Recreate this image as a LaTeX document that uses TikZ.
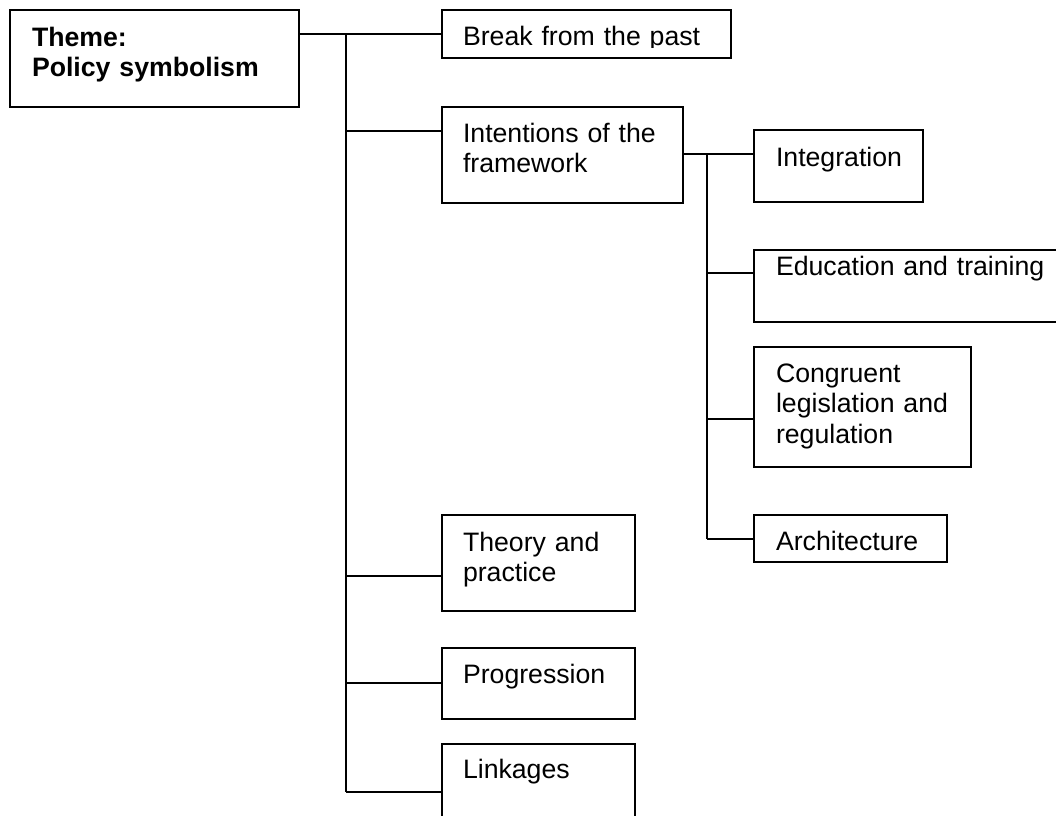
\documentclass[tikz,border=0pt]{standalone}
\usepackage{fontspec}
\setmainfont{Liberation Sans}
\begin{document}
\begin{tikzpicture}[x=1pt,y=-1pt,
  box/.style={draw, line width=1.6pt, rectangle, anchor=north west, inner sep=0pt, outer sep=0pt},
  txt/.style={anchor=base west, inner sep=0pt, outer sep=0pt, align=left, text width=#1,
    font=\fontsize{26.67}{30.7}\selectfont},
  txt/.default=280pt,
  link/.style={line width=1.6pt}]
\useasboundingbox (0,0) rectangle (1056,815);
% boxes
\node[box, minimum width=289pt, minimum height=97pt] (theme) at (10,10) {};
\node[box, minimum width=289pt, minimum height=48pt] (break) at (442,10) {};
\node[box, minimum width=241pt, minimum height=96pt] (inten) at (442,107) {};
\node[box, minimum width=169pt, minimum height=72pt] (integ) at (754,130) {};
\node[box, minimum width=310pt, minimum height=72pt] (educ) at (754,250) {};
\node[box, minimum width=217pt, minimum height=120pt] (congr) at (754,347) {};
\node[box, minimum width=193pt, minimum height=47pt] (arch) at (754,515) {};
\node[box, minimum width=193pt, minimum height=96pt] (theory) at (442,515) {};
\node[box, minimum width=193pt, minimum height=71pt] (progr) at (442,648) {};
\node[box, minimum width=193pt, minimum height=96pt] (linkb) at (442,744) {};
% texts
\node[txt, font=\fontsize{26.67}{30.7}\selectfont\bfseries] (themetxt) at (32,46) {Theme:\\Policy symbolism};
\begin{scope}
\clip (442,10) rectangle (731,47.5);
\node[txt] (breaktxt) at (463,45) {Break from the past};
\end{scope}
\node[txt] (intentxt) at (463,142) {Intentions of the\\framework};
\node[txt] (integtxt) at (776,166) {Integration};
\node[txt] (eductxt) at (776,275) {Education and training};
\node[txt] (congrtxt) at (776,382) {Congruent\\legislation and\\regulation};
\node[txt] (archtxt) at (776,550) {Architecture};
\node[txt] (theorytxt) at (463,551) {Theory and\\practice};
\node[txt] (progrtxt) at (463,683) {Progression};
\node[txt] (linktxt) at (463,778) {Linkages};
% trunk coordinates
\coordinate (ta) at (346,34);
\coordinate (tb) at (346,131);
\coordinate (tc) at (346,576);
\coordinate (td) at (346,683);
\coordinate (te) at (346,792);
\coordinate (sa) at (707,154);
\coordinate (sb) at (707,273);
\coordinate (sc) at (707,419);
\coordinate (sd) at (707,539);
% connectors
\draw[link] (theme.east |- ta) -- (ta -| break.west);
\draw[link] (ta) -- (te);
\draw[link] (tb) -- (tb -| inten.west);
\draw[link] (tc) -- (tc -| theory.west);
\draw[link] (td) -- (td -| progr.west);
\draw[link] (te) -- (te -| linkb.west);
\draw[link] (inten.east |- sa) -- (sa -| integ.west);
\draw[link] (sa) -- (sd);
\draw[link] (sb) -- (sb -| educ.west);
\draw[link] (sc) -- (sc -| congr.west);
\draw[link] (sd) -- (sd -| arch.west);
\end{tikzpicture}
\end{document}
